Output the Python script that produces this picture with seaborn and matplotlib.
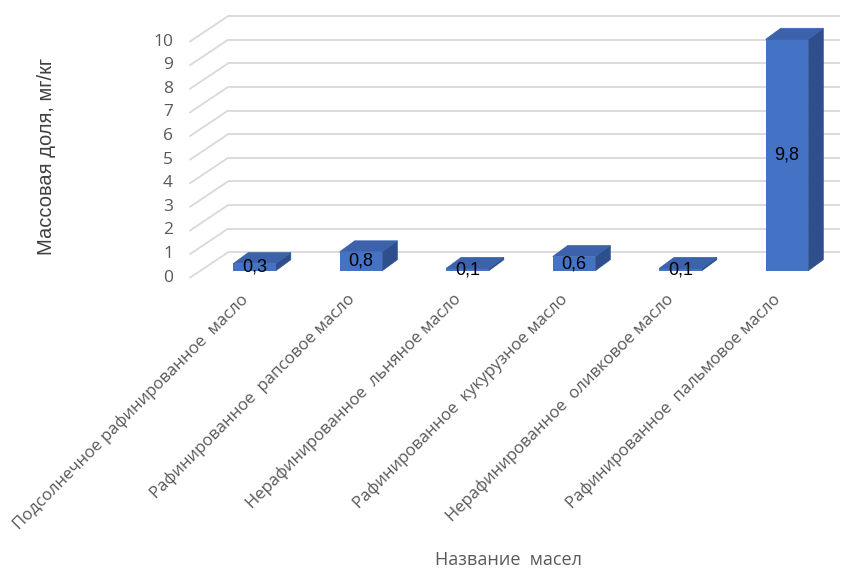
import matplotlib
matplotlib.use("Agg")
import matplotlib.pyplot as plt
import matplotlib.transforms as mtransforms
from matplotlib.patches import Polygon
import seaborn as sns
import pandas as pd

# Mass fraction of the substance in vegetable oils, mg/kg
oils = [
    "Подсолнечное рафинированное  масло",
    "Рафинированное  рапсовое масло",
    "Нерафинированное  льняное масло",
    "Рафинированное  кукурузное масло",
    "Нерафинированное  оливковое масло",
    "Рафинированное  пальмовое масло",
]
values = [0.3, 0.8, 0.1, 0.6, 0.1, 9.8]
y_ticks = [0, 1, 2, 3, 4, 5, 6, 7, 8, 9, 10]
y_label = "Массовая доля, мг/кг"
x_label = "Название  масел"

FRONT = "#4472C4"
TOP = "#3B62AB"
SIDE = "#2E4F8C"
GRID = "#D9D9D9"
TEXT = "#595959"

sns.set_theme(style="white")
plt.rcParams["font.family"] = ["Open Sans", "DejaVu Sans"]

W, H, DPI = 855, 569, 100
fig = plt.figure(figsize=(W / DPI, H / DPI), dpi=DPI)
ax = fig.add_axes([190 / W, 1 - 290 / H, 650 / W, 280 / H])

df = pd.DataFrame({"oil": oils, "value": values})
sns.barplot(data=df, x="oil", y="value", color=FRONT, saturation=1,
            width=0.40, ax=ax, zorder=3, linewidth=0)

ax.set_xlim(-0.6056, 5.4977)
ax.set_ylim(-0.817, 11.04)
ax.set_xticks([])
ax.set_yticks([])
ax.set_xlabel("")
ax.set_ylabel("")
for s in ax.spines.values():
    s.set_visible(False)
ax.patch.set_alpha(0)


def px(dx, dy):
    """Offset in pixels (dy positive = up)."""
    return mtransforms.ScaledTranslation(dx / DPI, dy / DPI, fig.dpi_scale_trans)


back = ax.transData + px(0, 18.4)
front = ax.transData + px(0, -7)
x_back_left = -0.249

# Walls: horizontal grid on the back plane and diagonals to the front edge
for v in y_ticks:
    ax.plot([x_back_left, 5.4977], [v, v], transform=back, color=GRID,
            lw=1.3, zorder=1, solid_capstyle="butt")
    p0 = front.transform((-0.6056, v))
    p1 = back.transform((x_back_left, v))
    fig.add_artist(plt.Line2D([p0[0] / W, p1[0] / W], [p0[1] / H, p1[1] / H],
                              transform=fig.transFigure, color=GRID, lw=1.3,
                              zorder=1))
    ax.text(-0.6056, v, str(v), transform=front + px(-17, 0),
            ha="right", va="center", fontsize=12.5, color=TEXT)

# Depth faces of each bar
fig.canvas.draw()
x_scale = ax.transData.transform((1, 0))[0] - ax.transData.transform((0, 0))[0]
y_scale = ax.transData.transform((0, 1))[1] - ax.transData.transform((0, 0))[1]
ddx, ddy = 15 / x_scale, 11 / y_scale

for bar, v in zip(ax.patches, values):
    x0, w, h = bar.get_x(), bar.get_width(), bar.get_height()
    top = [(x0, h), (x0 + w, h), (x0 + w + ddx, h + ddy), (x0 + ddx, h + ddy)]
    side = [(x0 + w, 0), (x0 + w + ddx, ddy), (x0 + w + ddx, h + ddy), (x0 + w, h)]
    ax.add_patch(Polygon(side, closed=True, facecolor=SIDE, edgecolor=SIDE,
                         lw=0.5, zorder=2.9))
    ax.add_patch(Polygon(top, closed=True, facecolor=TOP, edgecolor=TOP,
                         lw=0.5, zorder=3.1))
    ax.text(x0 + w / 2, h / 2, f"{v:.1f}".replace(".", ","),
            ha="center", va="center", fontsize=13, color="black",
            family=["Liberation Sans", "DejaVu Sans"], zorder=4)

# Category labels, rotated
lab_tr = mtransforms.blended_transform_factory(ax.transData, ax.transAxes) + px(-9, -7)
for i, name in enumerate(oils):
    ax.text(i, 0, name, transform=lab_tr, rotation=45, rotation_mode="anchor",
            ha="right", va="center", fontsize=12.1, color=TEXT)

fig.text(46 / W, 1 - 156 / H, y_label, rotation=90, ha="center", va="center",
         fontsize=14.5, color="#404040", family=["Liberation Sans", "DejaVu Sans"])
fig.text(508 / W, 1 - 560 / H, x_label, ha="center", va="center",
         fontsize=13, color=TEXT)

fig.savefig("out.png", dpi=DPI)
